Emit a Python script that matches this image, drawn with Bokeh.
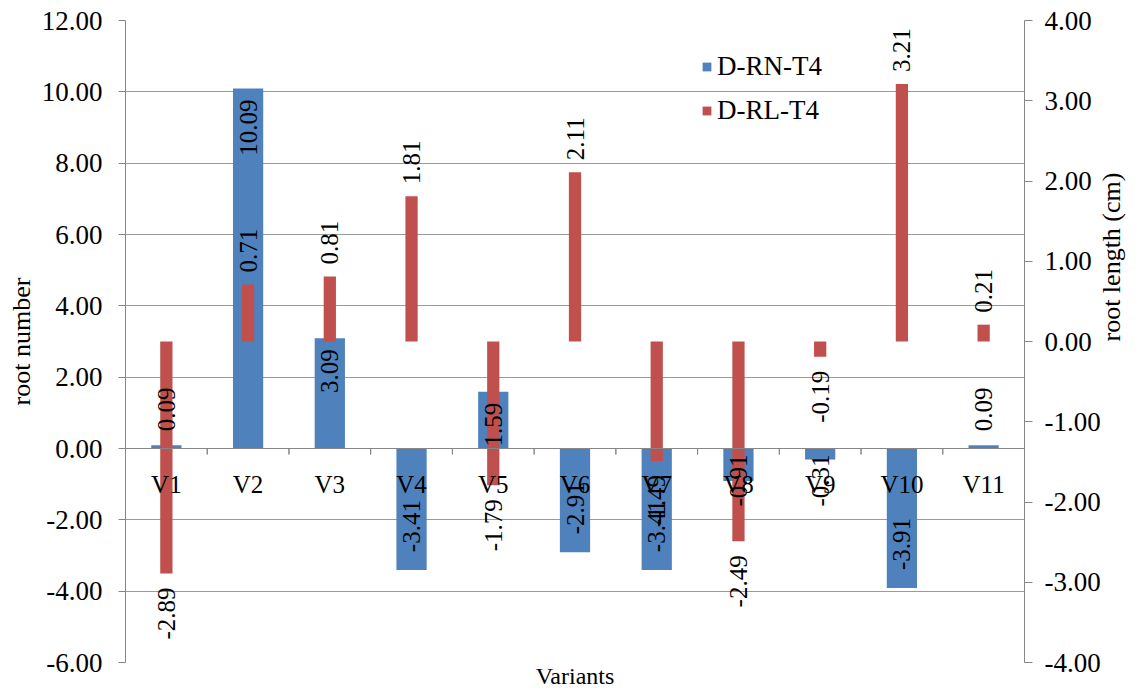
import math
from bokeh.plotting import figure
from bokeh.models import (ColumnDataSource, Range1d, FactorRange, LinearAxis, CategoricalAxis,
                          FixedTicker, NumeralTickFormatter, Legend, LegendItem)
from bokeh.transform import dodge
from bokeh.embed import file_html
from bokeh.resources import INLINE
from bokeh.core.properties import value

# ---------------- data ----------------
variants = ["V1", "V2", "V3", "V4", "V5", "V6", "V7", "V8", "V9", "V10", "V11"]
root_number = [0.09, 10.09, 3.09, -3.41, 1.59, -2.91, -3.41, -0.91, -0.31, -3.91, 0.09]
root_length = [-2.89, 0.71, 0.81, 1.81, -1.79, 2.11, -1.49, -2.49, -0.19, 3.21, 0.21]
left_ticks = [-6, -4, -2, 0, 2, 4, 6, 8, 10, 12]
right_ticks = [-4, -3, -2, -1, 0, 1, 2, 3, 4]
series_names = ["D-RN-T4", "D-RL-T4"]
left_title = "root number"
right_title = "root length (cm)"
x_title = "Variants"

BLUE = "#4F81BD"
RED = "#C0504D"
GRID = "#9a9a9a"
AXIS = "#868686"
FONT = "Liberation Serif"

FW, FH = 900, 643
L0, L1 = left_ticks[0], left_ticks[-1]
R0, R1 = right_ticks[0], right_ticks[-1]
lpx = FH / (L1 - L0)   # px per unit, left
rpx = FH / (R1 - R0)   # px per unit, right

p = figure(width=1143, height=691, output_backend="svg", toolbar_location=None,
           x_range=FactorRange(*variants, range_padding=0, factor_padding=0),
           y_range=Range1d(L0, L1), x_axis_location=None,
           min_border_left=125, min_border_right=118, min_border_top=20, min_border_bottom=28)
p.title.visible = False
p.outline_line_color = None
p.background_fill_color = "white"
p.border_fill_color = "white"
p.xgrid.visible = False
p.ygrid.grid_line_color = GRID
p.ygrid.ticker = FixedTicker(ticks=left_ticks)
p.extra_y_ranges = {"len": Range1d(R0, R1)}

# left axis
ya = p.yaxis[0]
ya.ticker = FixedTicker(ticks=left_ticks)
ya.formatter = NumeralTickFormatter(format="0.00")
ya.axis_line_color = AXIS
ya.major_tick_line_color = AXIS
ya.major_tick_out = 7
ya.major_tick_in = 0
ya.minor_tick_line_color = None
ya.major_label_standoff = 16
ya.major_label_text_font = FONT
ya.major_label_text_font_size = "27px"
ya.major_label_text_color = "black"
ya.axis_label = left_title
ya.axis_label_text_font = FONT
ya.axis_label_text_font_size = "26px"
ya.axis_label_text_font_style = "normal"
ya.axis_label_text_color = "black"
ya.axis_label_standoff = 3

# right axis
ra = LinearAxis(y_range_name="len", ticker=FixedTicker(ticks=right_ticks),
                formatter=NumeralTickFormatter(format="0.00"))
ra.axis_line_color = AXIS
ra.major_tick_line_color = AXIS
ra.major_tick_out = 8
ra.major_tick_in = 0
ra.minor_tick_line_color = None
ra.major_label_standoff = 12
ra.major_label_text_font = FONT
ra.major_label_text_font_size = "27px"
ra.major_label_text_color = "black"
ra.axis_label = right_title
ra.axis_label_text_font = FONT
ra.axis_label_text_font_size = "26px"
ra.axis_label_text_font_style = "normal"
ra.axis_label_text_color = "black"
ra.axis_label_standoff = 8
if hasattr(ra, "axis_label_orientation"):
    ra.axis_label_orientation = math.pi / 2
p.add_layout(ra, "right")

# category axis at y = 0
xa = CategoricalAxis(fixed_location=0)
xa.axis_line_color = AXIS
xa.major_tick_line_color = None
xa.major_tick_out = 0
xa.major_tick_in = 0
xa.minor_tick_line_color = None
xa.major_label_standoff = 22
xa.major_label_text_font = FONT
xa.major_label_text_font_size = "25px"
xa.major_label_text_color = "black"
p.add_layout(xa, "below")

# bottom axis that only carries the title
xb = CategoricalAxis()
xb.axis_line_color = None
xb.major_tick_line_color = None
xb.major_tick_out = 0
xb.major_tick_in = 0
xb.minor_tick_line_color = None
xb.major_label_text_font_size = "0px"
xb.major_label_text_alpha = 0
xb.major_label_standoff = 0
xb.axis_label = x_title
xb.axis_label_text_font = FONT
xb.axis_label_text_font_size = "24px"
xb.axis_label_text_font_style = "normal"
xb.axis_label_text_color = "black"
xb.axis_label_standoff = 0
p.add_layout(xb, "below")

src = ColumnDataSource(dict(cat=variants, rn=root_number, rl=root_length))

# bars
b1 = p.vbar(x="cat", top="rn", bottom=0, width=0.37, source=src,
            fill_color=BLUE, line_color=None)
b2 = p.vbar(x="cat", top="rl", bottom=0, width=0.15, source=src, y_range_name="len",
            fill_color=RED, line_color=None)

# category boundary ticks on the zero axis
tick_len = 6 / lpx
p.segment(x0=dodge("cat", -0.5, range=p.x_range), x1=dodge("cat", -0.5, range=p.x_range),
          y0=0, y1=-tick_len, source=src, line_color=AXIS, line_width=1)
p.segment(x0=dodge("cat", 0.5, range=p.x_range), x1=dodge("cat", 0.5, range=p.x_range),
          y0=0, y1=-tick_len, source=src, line_color=AXIS, line_width=1)

# data labels
LBL = "25px"
def label_len_px(s):
    w = {"-": 0.333, ".": 0.25}
    return sum(w.get(c, 0.5) for c in s) * 25

groups = {("left", "default"): dict(x=[], y=[], t=[]), ("right", "default"): dict(x=[], y=[], t=[]),
          ("left", "len"): dict(x=[], y=[], t=[]), ("right", "len"): dict(x=[], y=[], t=[])}
for c, v in zip(variants, root_number):
    s = "%.2f" % v
    L = label_len_px(s)
    if v >= 0:
        if v * lpx > L + 11:
            key, y = ("right", "default"), v - 11 / lpx
        else:
            key, y = ("left", "default"), v + 14 / lpx
    else:
        if -v * lpx > L + 18:
            key, y = ("left", "default"), v + 18 / lpx
        else:
            key, y = ("right", "default"), -6 / lpx
    g = groups[key]
    g["x"].append(c); g["y"].append(y); g["t"].append(s)
for c, v in zip(variants, root_length):
    s = "%.2f" % v
    if v >= 0:
        key, y = ("left", "len"), v + 12 / rpx
    else:
        key, y = ("right", "len"), v - 14 / rpx
    g = groups[key]
    g["x"].append(c); g["y"].append(y); g["t"].append(s)

for (align, rng), g in groups.items():
    if not g["x"]:
        continue
    p.text(x="x", y="y", text="t", source=ColumnDataSource(g), y_range_name=rng,
           angle=math.pi / 2, text_align=align, text_baseline="middle",
           text_font=value(FONT), text_font_size=LBL, text_color="black")

# legend
legend = Legend(items=[LegendItem(label=series_names[0], renderers=[b1]),
                       LegendItem(label=series_names[1], renderers=[b2])],
                location=(576, 536), orientation="vertical")
legend.background_fill_alpha = 0
legend.border_line_color = None
legend.label_text_font = FONT
legend.label_text_font_size = "27px"
legend.label_text_color = "black"
legend.glyph_width = 11
legend.glyph_height = 11
legend.label_height = 30
legend.label_standoff = 5
legend.spacing = 13
legend.padding = 5
legend.margin = 0
p.add_layout(legend, "center")

open("out.html", "w").write(file_html(p, INLINE))
